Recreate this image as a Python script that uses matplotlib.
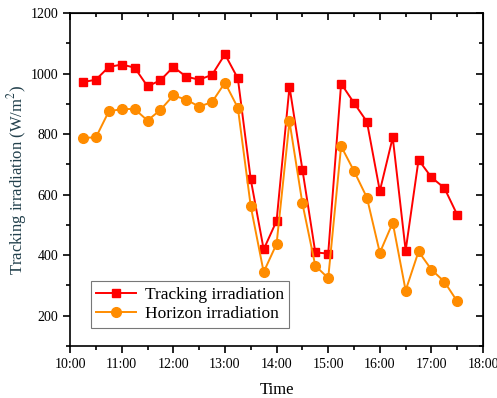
import matplotlib
matplotlib.use("Agg")
import matplotlib.pyplot as plt
from matplotlib.ticker import MultipleLocator

plt.rcParams['font.family'] = ['Liberation Serif', 'DejaVu Serif']
plt.rcParams['mathtext.fontset'] = 'stix'

# time of day in hours, every 15 min from 10:15 to 17:30
times = [10.25, 10.5, 10.75, 11.0, 11.25, 11.5, 11.75, 12.0, 12.25, 12.5,
         12.75, 13.0, 13.25, 13.5, 13.75, 14.0, 14.25, 14.5, 14.75, 15.0,
         15.25, 15.5, 15.75, 16.0, 16.25, 16.5, 16.75, 17.0, 17.25, 17.5]
tracking = [972, 980, 1022, 1030, 1020, 958, 978, 1022, 990, 980,
            996, 1064, 984, 650, 419, 513, 957, 683, 409, 405,
            967, 903, 841, 612, 789, 415, 715, 657, 622, 533]
horizon = [788, 789, 875, 883, 883, 845, 880, 928, 914, 891,
           906, 970, 887, 561, 344, 437, 842, 571, 365, 324,
           760, 678, 590, 408, 507, 283, 412, 352, 312, 247]
xtick_pos = [10, 11, 12, 13, 14, 15, 16, 17, 18]
xtick_labels = ["10:00", "11:00", "12:00", "13:00", "14:00", "15:00",
                "16:00", "17:00", "18:00"]

fig = plt.figure(figsize=(4.97, 3.98), dpi=100)
ax = fig.add_axes([0.141, 0.131, 0.831, 0.836])

ax.plot(times, tracking, color='#ff0000', lw=1.4, marker='s', ms=5.5,
        label='Tracking irradiation')
ax.plot(times, horizon, color='#ff8c00', lw=1.4, marker='o', ms=7,
        label='Horizon irradiation')

ax.set_xlim(10, 18)
ax.set_ylim(100, 1200)
ax.set_xticks(xtick_pos)
ax.set_xticklabels(xtick_labels)
ax.xaxis.set_minor_locator(MultipleLocator(0.5))
ax.yaxis.set_major_locator(MultipleLocator(200))
ax.yaxis.set_minor_locator(MultipleLocator(100))
ax.tick_params(which='both', direction='out', labelsize=10, width=1.2)
ax.tick_params(which='major', length=5)
ax.tick_params(which='minor', length=3)
for s in ax.spines.values():
    s.set_linewidth(1.2)

# mirrored ticks on top / right, pointing inside
top = ax.secondary_xaxis('top')
top.set_xticks(xtick_pos)
top.xaxis.set_minor_locator(MultipleLocator(0.5))
top.tick_params(which='both', direction='in', labeltop=False, width=1.2)
top.tick_params(which='major', length=5)
top.tick_params(which='minor', length=3)
right = ax.secondary_yaxis('right')
right.yaxis.set_major_locator(MultipleLocator(200))
right.yaxis.set_minor_locator(MultipleLocator(100))
right.tick_params(which='both', direction='in', labelright=False, width=1.2)
right.tick_params(which='major', length=5)
right.tick_params(which='minor', length=3)

ax.set_xlabel('Time', fontsize=12, labelpad=8)
ax.set_ylabel('Tracking irradiation (W/m$^2$)', fontsize=12, labelpad=1,
              color='#22404c')

leg = ax.legend(loc='lower left', bbox_to_anchor=(0.05, 0.055), fontsize=12.5,
                frameon=True, fancybox=False, edgecolor='#555555',
                handlelength=2.3, borderpad=0.3, labelspacing=0.2,
                handletextpad=0.5, borderaxespad=0)
leg.get_frame().set_linewidth(0.8)

fig.savefig('out.png', dpi=100)
